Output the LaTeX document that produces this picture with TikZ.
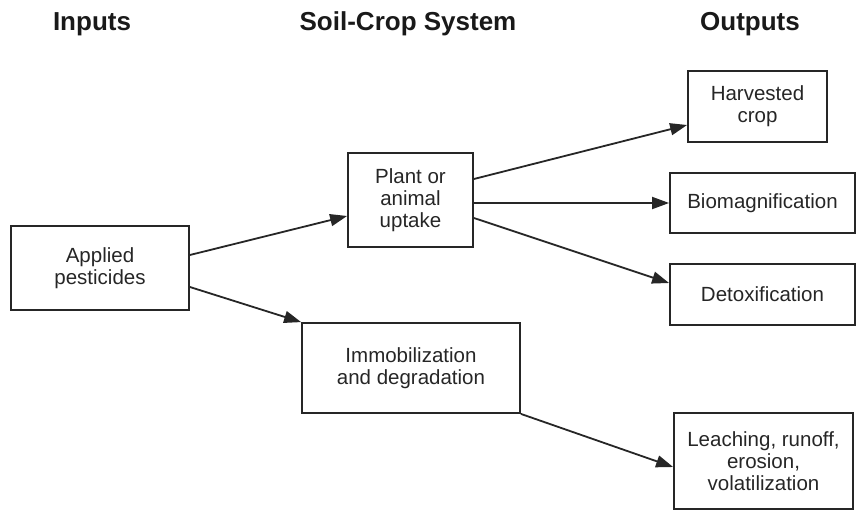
\documentclass[tikz,border=0pt]{standalone}
\usepackage{fontspec}
\setmainfont{Liberation Sans}
\usetikzlibrary{arrows.meta}
\begin{document}
\begin{tikzpicture}[x=1pt,y=-1pt,
  box/.style={draw=black!85, line width=1.8pt, rectangle, align=center, inner sep=0pt,
    font=\fontsize{20.5}{22}\selectfont, text=black!85},
  heading/.style={font=\bfseries\fontsize{26}{28}\selectfont, text=black!90, inner sep=0pt},
  flow/.style={draw=black!85, line width=1.8pt,
    -{Triangle[length=17pt,width=12pt]}}]
\useasboundingbox (0,0) rectangle (856,511);

% column headings
\node[heading] (hin)  at (92,24)  {Inputs};
\node[heading] (hsys) at (408,24) {Soil-Crop System};
\node[heading] (hout) at (750,24) {Outputs};

% boxes
\node[box, minimum width=178pt, minimum height=84pt] (apl)  at (100,268)   {Applied\\pesticides};
\node[box, minimum width=125pt, minimum height=94pt] (plant) at (410.5,200) {Plant or\\animal\\uptake};
\node[box, minimum width=218pt, minimum height=90pt] (imm)  at (411,368)   {Immobilization\\and degradation};
\node[box, minimum width=139pt, minimum height=71pt] (harv) at (757.5,106.5) {Harvested\\crop};
\node[box, minimum width=185pt, minimum height=60pt] (bio)  at (762.5,203) {Biomagnification};
\node[box, minimum width=185pt, minimum height=61pt] (det)  at (762.5,294.5) {Detoxification};
\node[box, minimum width=179pt, minimum height=96pt] (lea)  at (763.5,461) {Leaching, runoff,\\erosion,\\volatilization};

% flows
\draw[flow] ([yshift=13pt]apl.east) -- ([yshift=-16pt]plant.west);
\draw[flow] ([yshift=-19pt]apl.east) -- (imm.north west);
\draw[flow] ([yshift=21pt]plant.east) -- ([yshift=-18.5pt]harv.west);
\draw[flow] (plant.east |- bio.west) -- (bio.west);
\draw[flow] ([yshift=-18pt]plant.east) -- ([yshift=11.5pt]det.west);
\draw[flow] (imm.south east) -- ([yshift=-6pt]lea.west);
\end{tikzpicture}
\end{document}
